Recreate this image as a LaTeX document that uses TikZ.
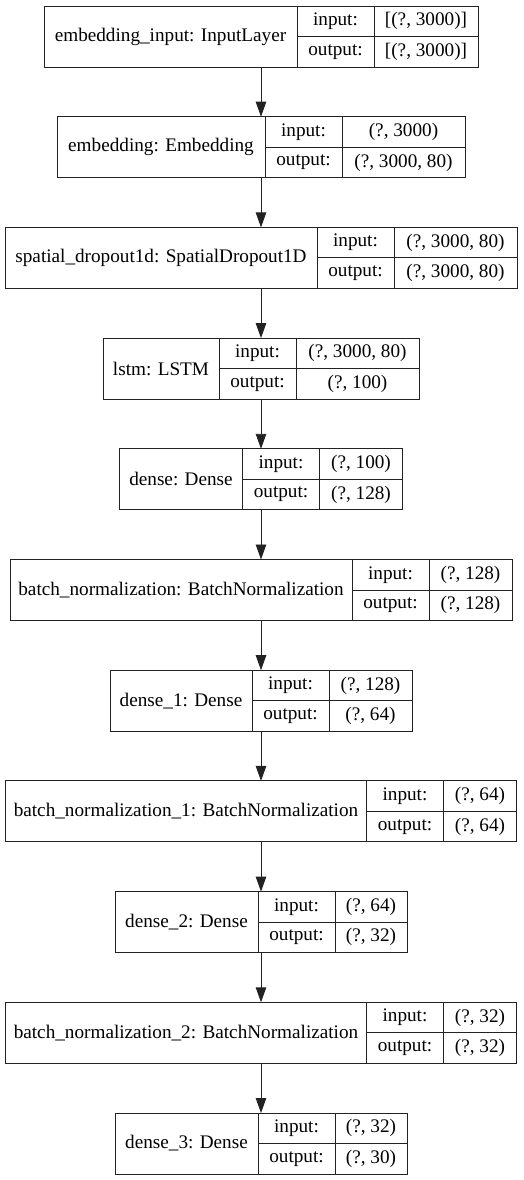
\documentclass[tikz,border=0pt]{standalone}
\usepackage{fontspec}
\setmainfont{Liberation Serif}
\usepackage{xcolor}
\usepackage{tikz}
\usetikzlibrary{arrows.meta}
\definecolor{edgecolor}{HTML}{222222}

\begin{document}
\begin{tikzpicture}[x=1pt, y=-1pt, font=\fontsize{19.2}{23}\selectfont,
    layerbox/.style={draw=edgecolor, line width=0.9pt, anchor=north west, minimum height=61, inner sep=0pt, outer sep=0pt},
    namecell/.style={draw=edgecolor, line width=0.9pt, anchor=north west, minimum height=61, inner sep=0pt, outer sep=0pt},
    portcell/.style={draw=edgecolor, line width=0.9pt, anchor=north west, minimum height=30.5, inner sep=0pt, outer sep=0pt},
    flow/.style={-{Triangle[length=15pt, width=10.5pt]}, line width=0.9pt, draw=edgecolor}]

    \useasboundingbox (0,0) rectangle (523,1180);

    % Input layer
    \node[layerbox, minimum width=434] (input) at (44,6) {};
    \node[namecell, minimum width=253] (inputname) at (input.north west) {embedding\_input: InputLayer};
    \node[portcell, minimum width=77] (inputinl) at (inputname.north east) {input:};
    \node[portcell, minimum width=104] (inputin) at (inputinl.north east) {[(?, 3000)]};
    \node[portcell, minimum width=77] (inputoutl) at (inputinl.south west) {output:};
    \node[portcell, minimum width=104] (inputout) at (inputin.south west) {[(?, 3000)]};

    % Embedding
    \node[layerbox, minimum width=408] (embed) at (57,116.7) {};
    \node[namecell, minimum width=208] (embedname) at (embed.north west) {embedding: Embedding};
    \node[portcell, minimum width=77] (embedinl) at (embedname.north east) {input:};
    \node[portcell, minimum width=123] (embedin) at (embedinl.north east) {(?, 3000)};
    \node[portcell, minimum width=77] (embedoutl) at (embedinl.south west) {output:};
    \node[portcell, minimum width=123] (embedout) at (embedin.south west) {(?, 3000, 80)};

    % Spatial dropout
    \node[layerbox, minimum width=512] (drop) at (5,227.4) {};
    \node[namecell, minimum width=312] (dropname) at (drop.north west) {spatial\_dropout1d: SpatialDropout1D};
    \node[portcell, minimum width=77] (dropinl) at (dropname.north east) {input:};
    \node[portcell, minimum width=123] (dropin) at (dropinl.north east) {(?, 3000, 80)};
    \node[portcell, minimum width=77] (dropoutl) at (dropinl.south west) {output:};
    \node[portcell, minimum width=123] (dropout) at (dropin.south west) {(?, 3000, 80)};

    % LSTM
    \node[layerbox, minimum width=316] (lstm) at (103,338.1) {};
    \node[namecell, minimum width=116] (lstmname) at (lstm.north west) {lstm: LSTM};
    \node[portcell, minimum width=77] (lstminl) at (lstmname.north east) {input:};
    \node[portcell, minimum width=123] (lstmin) at (lstminl.north east) {(?, 3000, 80)};
    \node[portcell, minimum width=77] (lstmoutl) at (lstminl.south west) {output:};
    \node[portcell, minimum width=123] (lstmout) at (lstmin.south west) {(?, 100)};

    % Dense
    \node[layerbox, minimum width=283] (dense) at (119.5,448.8) {};
    \node[namecell, minimum width=123] (densename) at (dense.north west) {dense: Dense};
    \node[portcell, minimum width=77] (denseinl) at (densename.north east) {input:};
    \node[portcell, minimum width=83] (densein) at (denseinl.north east) {(?, 100)};
    \node[portcell, minimum width=77] (denseoutl) at (denseinl.south west) {output:};
    \node[portcell, minimum width=83] (denseout) at (densein.south west) {(?, 128)};

    % Batch normalization
    \node[layerbox, minimum width=502] (bn) at (10,559.5) {};
    \node[namecell, minimum width=342] (bnname) at (bn.north west) {batch\_normalization: BatchNormalization};
    \node[portcell, minimum width=77] (bninl) at (bnname.north east) {input:};
    \node[portcell, minimum width=83] (bnin) at (bninl.north east) {(?, 128)};
    \node[portcell, minimum width=77] (bnoutl) at (bninl.south west) {output:};
    \node[portcell, minimum width=83] (bnout) at (bnin.south west) {(?, 128)};

    % Dense 1
    \node[layerbox, minimum width=302] (denseA) at (110,670.2) {};
    \node[namecell, minimum width=142] (denseAname) at (denseA.north west) {dense\_1: Dense};
    \node[portcell, minimum width=77] (denseAinl) at (denseAname.north east) {input:};
    \node[portcell, minimum width=83] (denseAin) at (denseAinl.north east) {(?, 128)};
    \node[portcell, minimum width=77] (denseAoutl) at (denseAinl.south west) {output:};
    \node[portcell, minimum width=83] (denseAout) at (denseAin.south west) {(?, 64)};

    % Batch normalization 1
    \node[layerbox, minimum width=511] (bnA) at (5.5,780.9) {};
    \node[namecell, minimum width=361] (bnAname) at (bnA.north west) {batch\_normalization\_1: BatchNormalization};
    \node[portcell, minimum width=77] (bnAinl) at (bnAname.north east) {input:};
    \node[portcell, minimum width=73] (bnAin) at (bnAinl.north east) {(?, 64)};
    \node[portcell, minimum width=77] (bnAoutl) at (bnAinl.south west) {output:};
    \node[portcell, minimum width=73] (bnAout) at (bnAin.south west) {(?, 64)};

    % Dense 2
    \node[layerbox, minimum width=292] (denseB) at (115,891.6) {};
    \node[namecell, minimum width=143] (denseBname) at (denseB.north west) {dense\_2: Dense};
    \node[portcell, minimum width=77] (denseBinl) at (denseBname.north east) {input:};
    \node[portcell, minimum width=72] (denseBin) at (denseBinl.north east) {(?, 64)};
    \node[portcell, minimum width=77] (denseBoutl) at (denseBinl.south west) {output:};
    \node[portcell, minimum width=72] (denseBout) at (denseBin.south west) {(?, 32)};

    % Batch normalization 2
    \node[layerbox, minimum width=511] (bnB) at (5.5,1002.3) {};
    \node[namecell, minimum width=361] (bnBname) at (bnB.north west) {batch\_normalization\_2: BatchNormalization};
    \node[portcell, minimum width=77] (bnBinl) at (bnBname.north east) {input:};
    \node[portcell, minimum width=73] (bnBin) at (bnBinl.north east) {(?, 32)};
    \node[portcell, minimum width=77] (bnBoutl) at (bnBinl.south west) {output:};
    \node[portcell, minimum width=73] (bnBout) at (bnBin.south west) {(?, 32)};

    % Dense 3
    \node[layerbox, minimum width=292] (denseC) at (115,1113) {};
    \node[namecell, minimum width=143] (denseCname) at (denseC.north west) {dense\_3: Dense};
    \node[portcell, minimum width=77] (denseCinl) at (denseCname.north east) {input:};
    \node[portcell, minimum width=72] (denseCin) at (denseCinl.north east) {(?, 32)};
    \node[portcell, minimum width=77] (denseCoutl) at (denseCinl.south west) {output:};
    \node[portcell, minimum width=72] (denseCout) at (denseCin.south west) {(?, 30)};

    % Flow between layers
    \draw[flow] (input) -- (embed);
    \draw[flow] (embed) -- (drop);
    \draw[flow] (drop) -- (lstm);
    \draw[flow] (lstm) -- (dense);
    \draw[flow] (dense) -- (bn);
    \draw[flow] (bn) -- (denseA);
    \draw[flow] (denseA) -- (bnA);
    \draw[flow] (bnA) -- (denseB);
    \draw[flow] (denseB) -- (bnB);
    \draw[flow] (bnB) -- (denseC);

\end{tikzpicture}
\end{document}
